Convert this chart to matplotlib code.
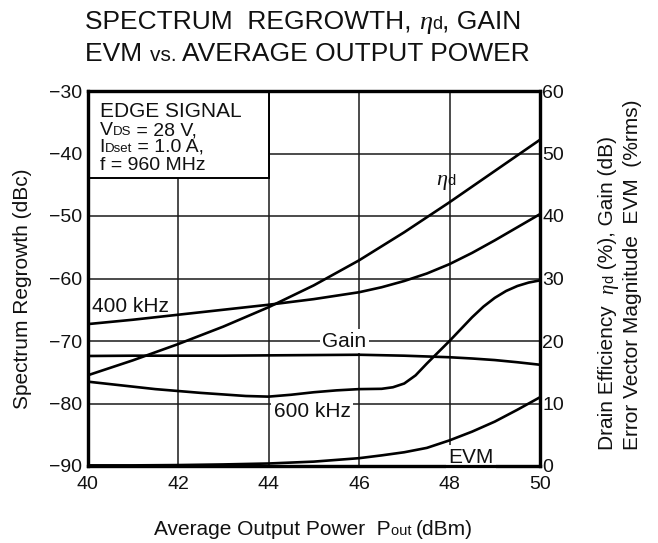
import matplotlib
matplotlib.use("Agg")
import matplotlib.pyplot as plt
from matplotlib.font_manager import FontProperties
from matplotlib.patches import Rectangle

# ---------------- data ----------------
pout_400 = [40, 41, 42, 43, 44, 45, 46, 46.5, 47, 47.5, 48, 48.5, 49, 49.5, 50]
acpr_400 = [-67.3, -66.6, -65.8, -65.0, -64.2, -63.3, -62.2, -61.4, -60.4, -59.2,
            -57.7, -55.9, -53.9, -51.8, -49.7]

pout_600 = [40, 40.5, 41, 41.5, 42, 42.5, 43, 43.5, 44, 44.5, 45, 45.5, 46, 46.5, 46.75, 47,
            47.25, 47.5, 47.75, 48, 48.25, 48.5, 48.75, 49, 49.25, 49.5, 49.75, 50]
acpr_600 = [-76.5, -76.9, -77.3, -77.7, -78.0, -78.3, -78.55, -78.8, -78.9, -78.6, -78.2,
            -77.9, -77.7, -77.65, -77.4, -76.8, -75.5, -73.6, -71.8, -70.0, -68.1, -66.2,
            -64.5, -63.1, -62.0, -61.2, -60.65, -60.3]

pout_eta = [40, 41, 42, 43, 44, 45, 46, 47, 48, 49, 50]
eta_d = [14.5, 16.9, 19.5, 22.3, 25.4, 28.9, 32.9, 37.4, 42.2, 47.2, 52.2]

pout_gain = [40, 41, 42, 43, 44, 45, 46, 47, 48, 48.5, 49, 49.5, 50]
gain_db = [17.6, 17.65, 17.65, 17.65, 17.7, 17.75, 17.8, 17.65, 17.4, 17.2, 16.95, 16.6, 16.2]

pout_evm = [40, 41, 42, 43, 44, 45, 46, 46.5, 47, 47.5, 48, 48.5, 49, 49.5, 50]
evm_pct = [0.1, 0.1, 0.15, 0.25, 0.4, 0.7, 1.25, 1.7, 2.2, 2.9, 4.1, 5.5, 7.1, 9.0, 11.0]

x_ticks = [40, 42, 44, 46, 48, 50]
left_ticks = [-90, -80, -70, -60, -50, -40, -30]
right_ticks = [0, 10, 20, 30, 40, 50, 60]

# ---------------- figure ----------------
W, H = 658, 543
plt.rcParams["font.family"] = ["Liberation Sans", "DejaVu Sans"]
plt.rcParams["text.color"] = "#111111"
fig = plt.figure(figsize=(W / 100, H / 100), dpi=100)
L, R, T, B = 87.5, 540, 91, 466
ax = fig.add_axes([L / W, 1 - B / H, (R - L) / W, (B - T) / H])
ax.set_xlim(40, 50)
ax.set_ylim(-90, -30)
ax2 = ax.twinx()
ax2.set_ylim(0, 60)

ax.set_xticks(x_ticks)
ax.set_yticks(left_ticks)
ax.set_yticklabels(["\u2212%d" % abs(v) for v in left_ticks])
ax2.set_yticks(right_ticks)
ax.grid(True, color="#1a1a1a", lw=1.1)
ax2.grid(False)
ax.tick_params(axis="both", length=0, labelsize=14, colors="#111111")
ax.tick_params(axis="x", pad=7.5)
ax.tick_params(axis="y", pad=4)
ax2.tick_params(axis="y", length=0, labelsize=14, pad=1.5, colors="#111111")
for a in (ax, ax2):
    for s in a.spines.values():
        s.set_linewidth(2.3)
        s.set_color("black")

lkw = dict(color="black", lw=1.9, solid_joinstyle="round", solid_capstyle="butt")
ax.plot(pout_400, acpr_400, **lkw)
ax.plot(pout_600, acpr_600, **lkw)
ax2.plot(pout_eta, eta_d, **lkw)
ax2.plot(pout_gain, gain_db, **lkw)
ax2.plot(pout_evm, evm_pct, **lkw)

# info box
ax.add_patch(Rectangle((40, -43.9), 4, 13.9, fc="white", ec="black", lw=1.4, zorder=2.2))

# curve labels
wb = dict(boxstyle="square,pad=0.12", fc="white", ec="none")
ax.text(40.1, -65.3, "400 kHz", fontsize=15, ha="left", va="baseline", zorder=3)
ax.text(45.68, -70.9, "Gain", fontsize=15, ha="center", va="baseline", bbox=wb, zorder=3)
ax.text(44.97, -82.1, "600 kHz", fontsize=15, ha="center", va="baseline", bbox=wb, zorder=3)
ax.text(48.48, -89.45, "EVM", fontsize=15, ha="center", va="baseline", bbox=wb, zorder=3)

# ---------------- rich text runs ----------------
renderer = fig.canvas.get_renderer()
ETA = dict(family=["Liberation Serif", "DejaVu Serif"], style="italic")


def adv(s, prop):
    w1, _, _ = renderer.get_text_width_height_descent("|" + s + "|", prop, ismath=False)
    w0, _, _ = renderer.get_text_width_height_descent("||", prop, ismath=False)
    return w1 - w0


def runs(x, y, parts, rot=0, ha="left"):
    props = []
    for s, size, kw in parts:
        p = FontProperties(family=kw.get("family", ["Liberation Sans", "DejaVu Sans"]),
                           style=kw.get("style", "normal"), size=size)
        props.append((s, p, adv(s, p)))
    total = sum(a for _, _, a in props)
    off = {"left": 0, "center": total / 2, "right": total}[ha]
    pos = -off
    for s, p, a in props:
        if rot == 0:
            px, py = x + pos, y
        else:
            px, py = x, y - pos
        fig.text(px / W, 1 - py / H, s, fontproperties=p, ha="left", va="baseline",
                 rotation=rot, rotation_mode="anchor", color="#111111")
        pos += a


# title
runs(85, 29, [("SPECTRUM  REGROWTH, ", 19, {}), ("\u03b7", 19, ETA), ("d", 13, {}), (", GAIN", 19, {})])
runs(85, 61, [("EVM ", 19, {}), ("vs. ", 15, {}), ("AVERAGE OUTPUT POWER", 19, {})])

# info box text
runs(99.5, 117, [("EDGE SIGNAL", 15, {})])
runs(99.5, 135, [("V", 14, {}), ("DS", 9.5, {}), (" = 28 V,", 14, {})])
runs(99.5, 152, [("I", 14, {}), ("Dset", 9.5, {}), (" = 1.0 A,", 14, {})])
runs(99.5, 170, [("f = 960 MHz", 14, {})])

# eta label on curve
runs(436, 185, [("\u03b7", 16, ETA), ("d", 10.5, {})])

# axis labels
fig.text(23 / W, 1 - 289 / H, "Spectrum Regrowth (dBc)", fontsize=15, rotation=90,
         ha="center", va="center")
runs(313.5, 535, [("Average Output Power  P", 15, {}), ("out ", 10.5, {}), ("(dBm)", 15, {})], ha="center")
runs(613, 450, [("Drain Efficiency  ", 15, {}), ("\u03b7", 15, ETA), ("d", 10.5, {}),
                (" (%), Gain (dB)", 15, {})], rot=90)
runs(638, 450, [("Error Vector Magnitude  EVM  (%rms)", 15, {})], rot=90)

fig.savefig("out.png", dpi=100)
